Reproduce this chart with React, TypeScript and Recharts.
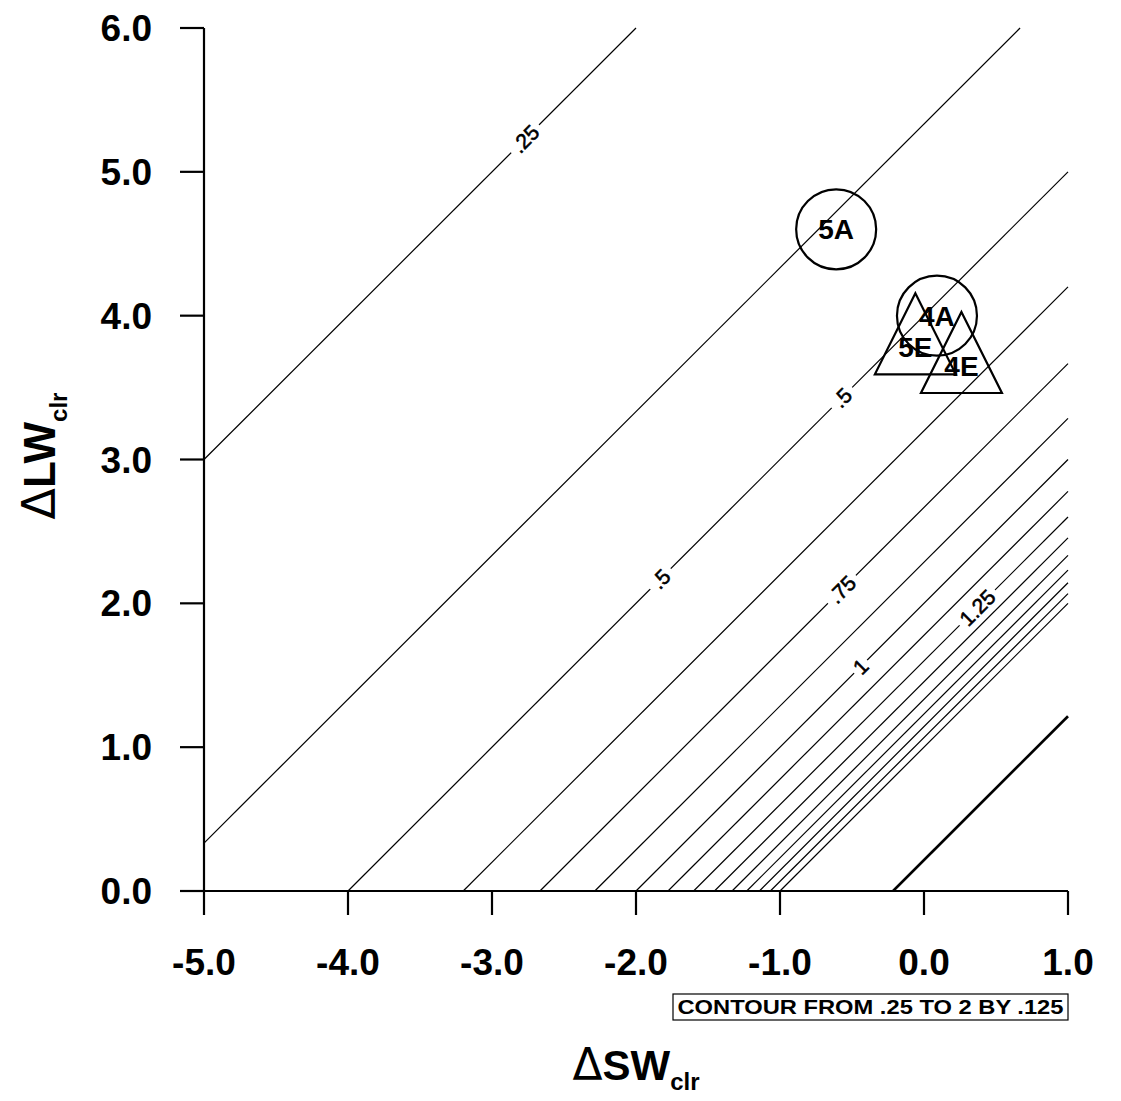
import React from 'react';
import { ScatterChart, XAxis, YAxis, ReferenceLine, ReferenceDot, Scatter } from 'recharts';

// Axis ticks
const xTicks = [-5, -4, -3, -2, -1, 0, 1];
const yTicks = [0, 1, 2, 3, 4, 5, 6];

// Contour lines (levels .25 to 2 by .125), endpoints
const contourLevels = [0.25, 0.375, 0.5, 0.625, 0.75, 0.875, 1, 1.125, 1.25, 1.375, 1.5, 1.625, 1.75, 1.875, 2];
const contourX1 = [-5, -5, -4, -3.2, -2.667, -2.286, -2, -1.778, -1.6, -1.455, -1.333, -1.231, -1.143, -1.067, -1];
const contourY1 = [3, 0.333, 0, 0, 0, 0, 0, 0, 0, 0, 0, 0, 0, 0, 0];
const contourX2 = [-2, 0.667, 1, 1, 1, 1, 1, 1, 1, 1, 1, 1, 1, 1, 1];
const contourY2 = [6, 6, 5, 4.2, 3.667, 3.286, 3, 2.778, 2.6, 2.455, 2.333, 2.231, 2.143, 2.067, 2];

// Thick line
const thickX = [-0.215, 1];
const thickY = [0, 1.215];

// Contour labels
const labelTexts = ['.25', '.5', '.5', '.75', '1', '1.25'];
const labelX = [-2.77, -1.83, -0.57, -0.57, -0.44, 0.37];
const labelY = [5.23, 2.17, 3.43, 2.097, 1.56, 1.97];

// Markers
const markerNames = ['5A', '4A', '5E', '4E'];
const markerX = [-0.61, 0.09, -0.06, 0.26];
const markerY = [4.6, 4.0, 3.78, 3.65];
const markerShapes = ['circle', 'circle', 'triangle', 'triangle'];

const FONT = '"Liberation Sans", Arial, Helvetica, sans-serif';

const markerData = markerNames.map((n, i) => ({ name: n, x: markerX[i], y: markerY[i], shape: markerShapes[i] }));

const MarkerShape = (props: any) => {
  const { cx, cy, payload } = props;
  if (cx == null || cy == null) return null;
  const isCircle = payload.shape === 'circle';
  return (
    <g>
      {isCircle ? (
        <circle cx={cx} cy={cy} r={40} fill="none" stroke="#000" strokeWidth={2.2} />
      ) : (
        <polygon
          points={`${cx},${cy - 54} ${cx + 40.5},${cy + 27} ${cx - 40.5},${cy + 27}`}
          fill="none"
          stroke="#000"
          strokeWidth={2.2}
        />
      )}
      <text x={cx} y={cy} dy="0.36em" textAnchor="middle" fontSize={28} fontWeight="bold" fontFamily={FONT} fill="#000">
        {payload.name}
      </text>
    </g>
  );
};

const ContourLabel = (props: any) => {
  const { cx, cy, text } = props;
  if (cx == null || cy == null) return null;
  const w = text.length * 10.5 + 8;
  return (
    <g transform={`translate(${cx},${cy}) rotate(-45)`}>
      <rect x={-w / 2} y={-9} width={w} height={18} fill="#fff" />
      <text x={0} y={0} dy="0.36em" textAnchor="middle" fontSize={21} fontFamily={FONT} fill="#000" stroke="#000" strokeWidth={0.6}>
        {text}
      </text>
    </g>
  );
};

export default function App() {
  return (
    <div style={{ position: 'absolute', left: 0, top: 0, width: 1121, height: 1101, background: '#fff' }}>
      <ScatterChart width={1121} height={1101} margin={{ top: 28, right: 53, left: 0, bottom: 0 }}>
        <XAxis
          dataKey="x"
          type="number"
          domain={[-5, 1]}
          ticks={xTicks}
          allowDataOverflow
          tickFormatter={(v: number) => v.toFixed(1)}
          height={210}
          tickSize={24}
          tickMargin={34}
          axisLine={{ stroke: '#000', strokeWidth: 2.2 }}
          tickLine={{ stroke: '#000', strokeWidth: 2.2 }}
          tick={{ fill: '#000', fontSize: 37, fontWeight: 'bold', fontFamily: FONT }}
          interval={0}
        />
        <YAxis
          dataKey="y"
          type="number"
          domain={[0, 6]}
          ticks={yTicks}
          allowDataOverflow
          tickFormatter={(v: number) => v.toFixed(1)}
          width={204}
          tickSize={24}
          tickMargin={28}
          axisLine={{ stroke: '#000', strokeWidth: 2.2 }}
          tickLine={{ stroke: '#000', strokeWidth: 2.2 }}
          tick={{ fill: '#000', fontSize: 37, fontWeight: 'bold', fontFamily: FONT }}
          interval={0}
        />
        {contourLevels.map((lev, i) => (
          <ReferenceLine
            key={'c' + lev}
            segment={[
              { x: contourX1[i], y: contourY1[i] },
              { x: contourX2[i], y: contourY2[i] },
            ]}
            stroke="#000"
            strokeWidth={1.2}
            ifOverflow="visible"
          />
        ))}
        <ReferenceLine
          segment={[
            { x: thickX[0], y: thickY[0] },
            { x: thickX[1], y: thickY[1] },
          ]}
          stroke="#000"
          strokeWidth={2.6}
          ifOverflow="visible"
        />
        {labelTexts.map((t, i) => (
          <ReferenceDot
            key={'l' + i}
            x={labelX[i]}
            y={labelY[i]}
            r={1}
            ifOverflow="visible"
            shape={(p: any) => <ContourLabel {...p} text={t} />}
          />
        ))}
        <Scatter data={markerData} isAnimationActive={false} shape={(p: any) => <MarkerShape {...p} />} />
      </ScatterChart>
      <svg width={1121} height={1101} style={{ position: 'absolute', left: 0, top: 0, pointerEvents: 'none' }}>
        <text transform="translate(55,456) rotate(-90)" textAnchor="middle" fontFamily={FONT} fontWeight="bold" fill="#000">
          <tspan fontSize={46} fontWeight="normal" fontFamily='"DejaVu Sans", sans-serif'>Δ</tspan>
          <tspan fontSize={44}>LW</tspan>
          <tspan fontSize={24} dy={12}>clr</tspan>
        </text>
        <text x={636} y={1080} textAnchor="middle" fontFamily={FONT} fontWeight="bold" fill="#000">
          <tspan fontSize={44} fontWeight="normal" fontFamily='"DejaVu Sans", sans-serif'>Δ</tspan>
          <tspan fontSize={42}>SW</tspan>
          <tspan fontSize={24} dy={10}>clr</tspan>
        </text>
        <rect x={673} y={994} width={395} height={26} fill="#fff" stroke="#000" strokeWidth={1.2} />
        <text x={870.5} y={1014} textAnchor="middle" fontFamily={FONT} fontWeight="bold" fontSize={21} fill="#000" textLength={386} lengthAdjust="spacingAndGlyphs">
          CONTOUR FROM .25 TO 2 BY .125
        </text>
      </svg>
    </div>
  );
}
